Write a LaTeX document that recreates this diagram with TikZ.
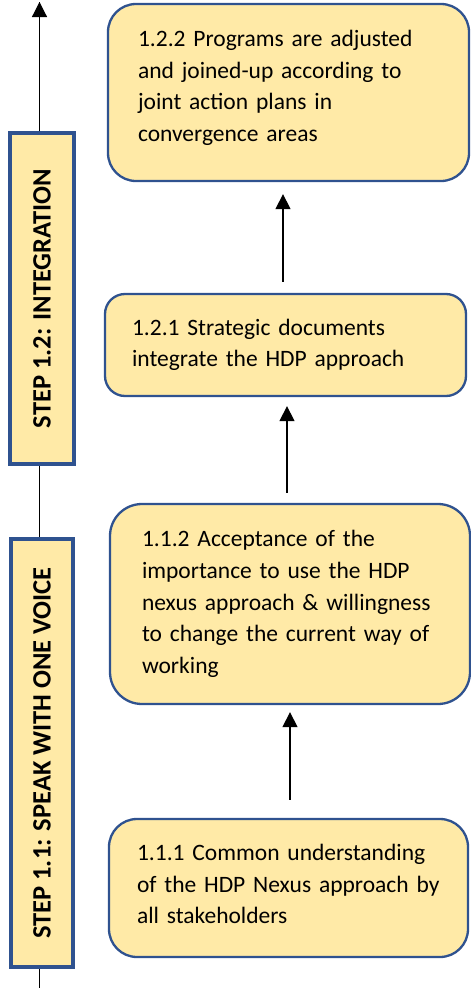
\documentclass[tikz,border=0pt]{standalone}
\usepackage{fontspec}
\setmainfont{Carlito}
\usetikzlibrary{arrows.meta}
\definecolor{boxfill}{HTML}{FFEAA7}
\definecolor{boxline}{HTML}{2F528F}
\begin{document}
\begin{tikzpicture}[x=1pt,y=-1pt,
  goalbox/.style={draw=boxline, fill=boxfill, line width=2.3pt, align=left,
    inner ysep=0pt, font=\fontsize{23.5}{31.7}\selectfont, text=black},
  stepbox/.style={draw=boxline, fill=boxfill, line width=3.5pt, rotate=90,
    inner sep=0pt, font=\fontsize{26.5}{30}\selectfont\bfseries, text=black},
  arrowline/.style={line width=1.3pt, -{Triangle[width=15pt,length=15pt]}}]
\useasboundingbox (0,0) rectangle (471,988);

% left time line
\coordinate (bot) at (39.5,988);
\coordinate (top) at (39.5,2);
\draw[line width=1.2pt] (bot) -- (top);

% step boxes
\node[stepbox, minimum width=331pt, minimum height=64pt] (S2) at (42,298.5) {STEP 1.2: INTEGRATION};
\node[stepbox, minimum width=428pt, minimum height=62pt] (S1) at (42,753) {STEP 1.1: SPEAK WITH ONE VOICE};
\draw[arrowline, line width=1.2pt] (S2.east -| top) -- (top);

% goal boxes
\node[goalbox, rounded corners=28pt, inner xsep=30pt, text width=301pt, minimum height=177pt] (A) at (288.5,92.5)
  {1.2.2 Programs are adjusted\\and joined-up according to\\joint action plans in\\convergence areas\par\vspace{9pt}};
\node[goalbox, rounded corners=20pt, inner xsep=27pt, text width=307pt, minimum height=102pt] (B) at (285.5,345)
  {1.2.1 Strategic documents\\integrate the HDP approach};
\node[goalbox, rounded corners=32pt, inner xsep=32pt, text width=296pt, minimum height=200pt] (C) at (290,604)
  {1.1.2 Acceptance of the\\importance to use the HDP\\nexus approach \& willingness\\to change the current way of\\working};
\node[goalbox, rounded corners=28pt, inner xsep=28pt, text width=303pt, minimum height=138pt] (D) at (288.5,888)
  {1.1.1 Common understanding\\of the HDP Nexus approach by\\all stakeholders\par\vspace{8pt}};

% arrows between goals
\coordinate (xa) at (283,0);
\coordinate (xb) at (287,0);
\coordinate (xc) at (290,0);
\draw[arrowline, shorten <=11pt, shorten >=12pt] (B.north -| xa) -- (A.south -| xa);
\draw[arrowline, shorten <=10pt, shorten >=9pt] (C.north -| xb) -- (B.south -| xb);
\draw[arrowline, shorten <=18pt, shorten >=7pt] (D.north -| xc) -- (C.south -| xc);
\end{tikzpicture}
\end{document}
